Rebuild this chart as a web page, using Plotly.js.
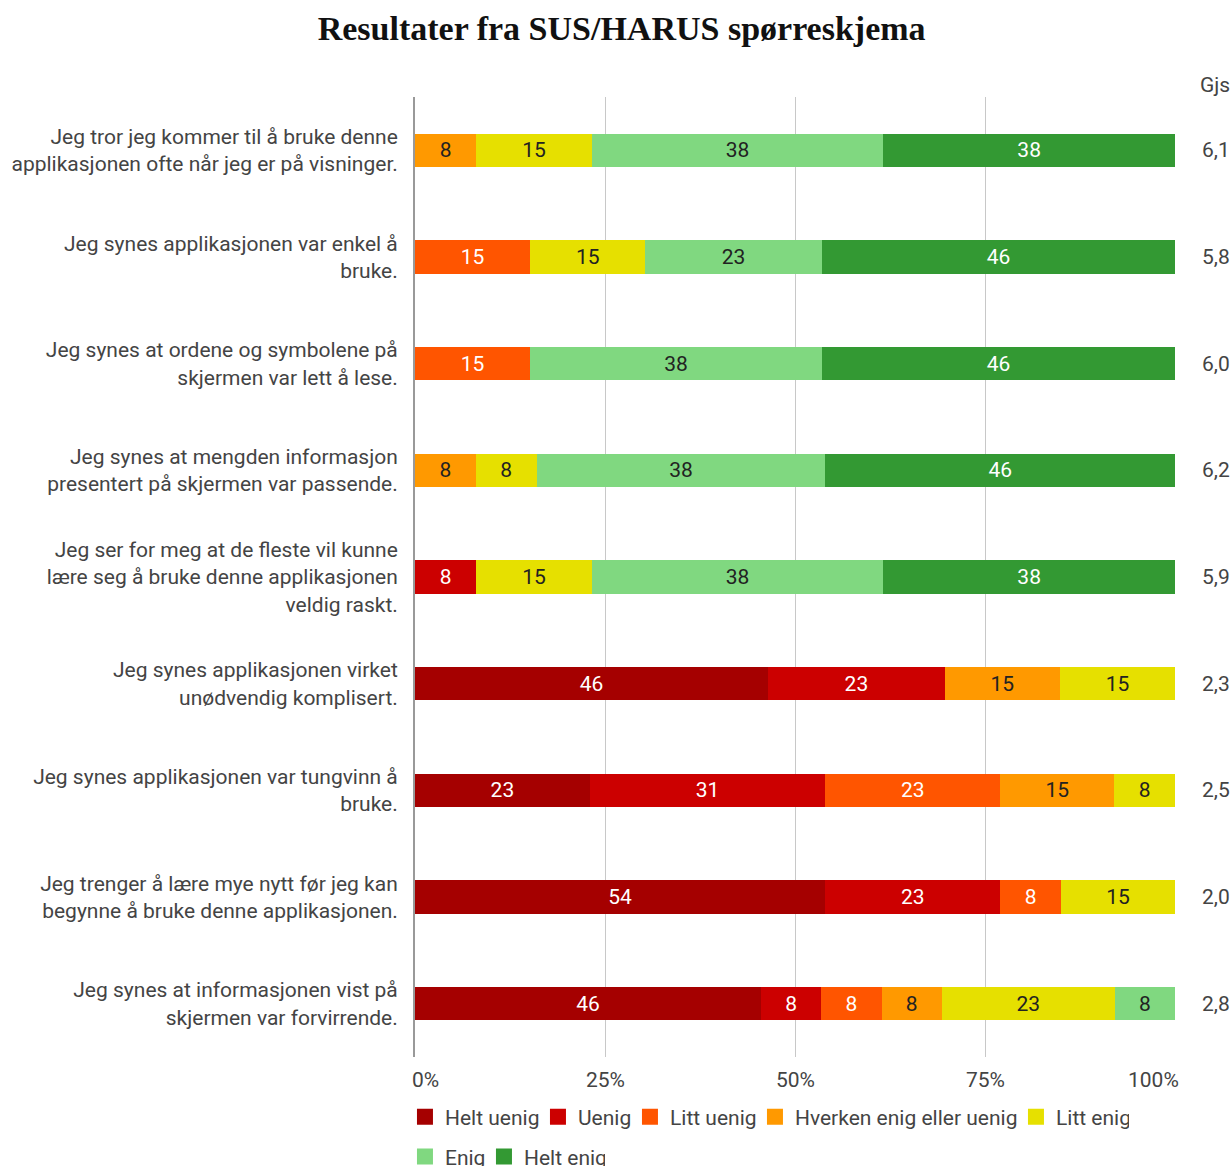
<!DOCTYPE html>
<html>
<head>
<meta charset="utf-8">
<script src="https://cdn.plot.ly/plotly-3.0.1.min.js"></script>
<style>html,body{margin:0;padding:0;background:#fff;}#chart{width:1231px;height:1166px;}</style>
</head>
<body>
<div id="chart"></div>
<script>
const questions = [
  "Jeg tror jeg kommer til å bruke denne<br>applikasjonen ofte når jeg er på visninger.",
  "Jeg synes applikasjonen var enkel å<br>bruke.",
  "Jeg synes at ordene og symbolene på<br>skjermen var lett å lese.",
  "Jeg synes at mengden informasjon<br>presentert på skjermen var passende.",
  "Jeg ser for meg at de fleste vil kunne<br>lære seg å bruke denne applikasjonen<br>veldig raskt.",
  "Jeg synes applikasjonen virket<br>unødvendig komplisert.",
  "Jeg synes applikasjonen var tungvinn å<br>bruke.",
  "Jeg trenger å lære mye nytt før jeg kan<br>begynne å bruke denne applikasjonen.",
  "Jeg synes at informasjonen vist på<br>skjermen var forvirrende."
];
const seriesNames = ["Helt uenig","Uenig","Litt uenig","Hverken enig eller uenig","Litt enig","Enig","Helt enig"];
const heltUenig = [0, 0, 0, 0, 0, 46, 23, 54, 46];
const uenig     = [0, 0, 0, 0, 8, 23, 31, 23, 8];
const littUenig = [0, 15, 15, 0, 0, 0, 23, 8, 8];
const hverken   = [8, 0, 0, 8, 0, 15, 15, 0, 8];
const littEnig  = [15, 15, 0, 8, 15, 15, 8, 15, 23];
const enig      = [38, 23, 38, 38, 38, 0, 0, 0, 8];
const heltEnig  = [38, 46, 46, 46, 38, 0, 0, 0, 0];
const gjs = ["6,1","5,8","6,0","6,2","5,9","2,3","2,5","2,0","2,8"];
const xTickVals = [0, 25, 50, 75, 100];
const xTickText = ["0%","25%","50%","75%","100%"];

const seriesValues = [heltUenig, uenig, littUenig, hverken, littEnig, enig, heltEnig];
const colors = ["#a50000","#cc0000","#ff5500","#ff9900","#e6e000","#80d880","#339933"];
const textColors = ["#ffffff","#ffffff","#ffffff","#222222","#222222","#222222","#ffffff"];
const FONT = "Roboto, 'Open Sans', sans-serif";
const FS = 21;

// measure legend text widths to tighten legend spacing
const cnv = document.createElement('canvas').getContext('2d');
cnv.font = FS + "px Roboto";
const textW = s => cnv.measureText(s).width;

const traces = seriesValues.map((vals, i) => ({
  type: 'bar',
  orientation: 'h',
  name: seriesNames[i],
  y: questions,
  x: vals,
  text: vals.map(v => v > 0 ? String(v) : ''),
  textposition: 'inside',
  insidetextanchor: 'middle',
  textangle: 0,
  constraintext: 'none',
  textfont: {family: FONT, size: FS, color: textColors[i]},
  marker: {color: colors[i], line: {width: 0}},
  showlegend: false
}));

// legend-only entries (square swatches)
seriesNames.forEach((n, i) => {
  traces.push({
    type: 'scatter', mode: 'markers', name: n,
    x: [null], y: [null],
    marker: {symbol: 'square', size: 16, color: colors[i]},
    legend: i < 5 ? 'legend' : 'legend2',
    legendwidth: Math.max(1, Math.round(textW(n) - 6.5)),
    showlegend: true
  });
});

const annotations = [];
gjs.forEach((g, i) => {
  annotations.push({
    xref: 'paper', yref: 'y', x: 1, y: questions[i], xshift: 25,
    xanchor: 'left', yanchor: 'middle', text: g, showarrow: false,
    font: {family: FONT, size: FS, color: '#444'}
  });
});
annotations.push({
  xref: 'paper', yref: 'paper', x: 1, y: 1, xshift: 23, yshift: 12,
  xanchor: 'left', yanchor: 'middle', text: 'Gjs', showarrow: false,
  font: {family: FONT, size: FS, color: '#444'}
});
xTickVals.forEach((v, i) => {
  let shift = 0;
  if (i === 0) shift = 10;
  if (i === xTickVals.length - 1) shift = -22;
  annotations.push({
    xref: 'x', yref: 'paper', x: v, y: 0, xshift: shift, yshift: -23,
    xanchor: 'center', yanchor: 'middle', text: xTickText[i], showarrow: false,
    font: {family: FONT, size: FS, color: '#444'}
  });
});

const legendCommon = {
  orientation: 'h', xref: 'paper', yref: 'paper', x: -0.0132, xanchor: 'left', yanchor: 'middle',
  font: {family: FONT, size: FS, color: '#444'},
  traceorder: 'normal', itemclick: false, itemwidth: 30, bgcolor: 'rgba(0,0,0,0)'
};

const layout = {
  width: 1231, height: 1166,
  margin: {l: 415, r: 56, t: 97, b: 109, pad: 0, autoexpand: false},
  paper_bgcolor: '#fff', plot_bgcolor: '#fff',
  barmode: 'stack',
  barnorm: 'percent',
  bargap: 0.69,
  title: {
    text: '<b>Resultater fra SUS/HARUS spørreskjema</b>',
    font: {family: "'Liberation Serif', 'DejaVu Serif', serif", size: 34, color: '#111'},
    x: 0.505, xanchor: 'center', y: 0.976, yanchor: 'middle'
  },
  xaxis: {
    range: [0, 100], tickvals: xTickVals, showticklabels: false,
    showgrid: true, gridcolor: '#c8c8c8', gridwidth: 1,
    zeroline: false, showline: false, ticks: '', fixedrange: true
  },
  yaxis: {
    autorange: 'reversed', type: 'category',
    ticks: '', ticklabelstandoff: 11,
    tickfont: {family: FONT, size: FS, color: '#444'},
    showline: true, linecolor: '#999', linewidth: 2,
    showgrid: false, zeroline: false
  },
  legend: Object.assign({}, legendCommon, {y: -0.0625}),
  legend2: Object.assign({}, legendCommon, {y: -0.104}),
  showlegend: true,
  annotations: annotations
};

Plotly.newPlot('chart', traces, layout, {displayModeBar: false, staticPlot: true});
</script>
</body>
</html>
